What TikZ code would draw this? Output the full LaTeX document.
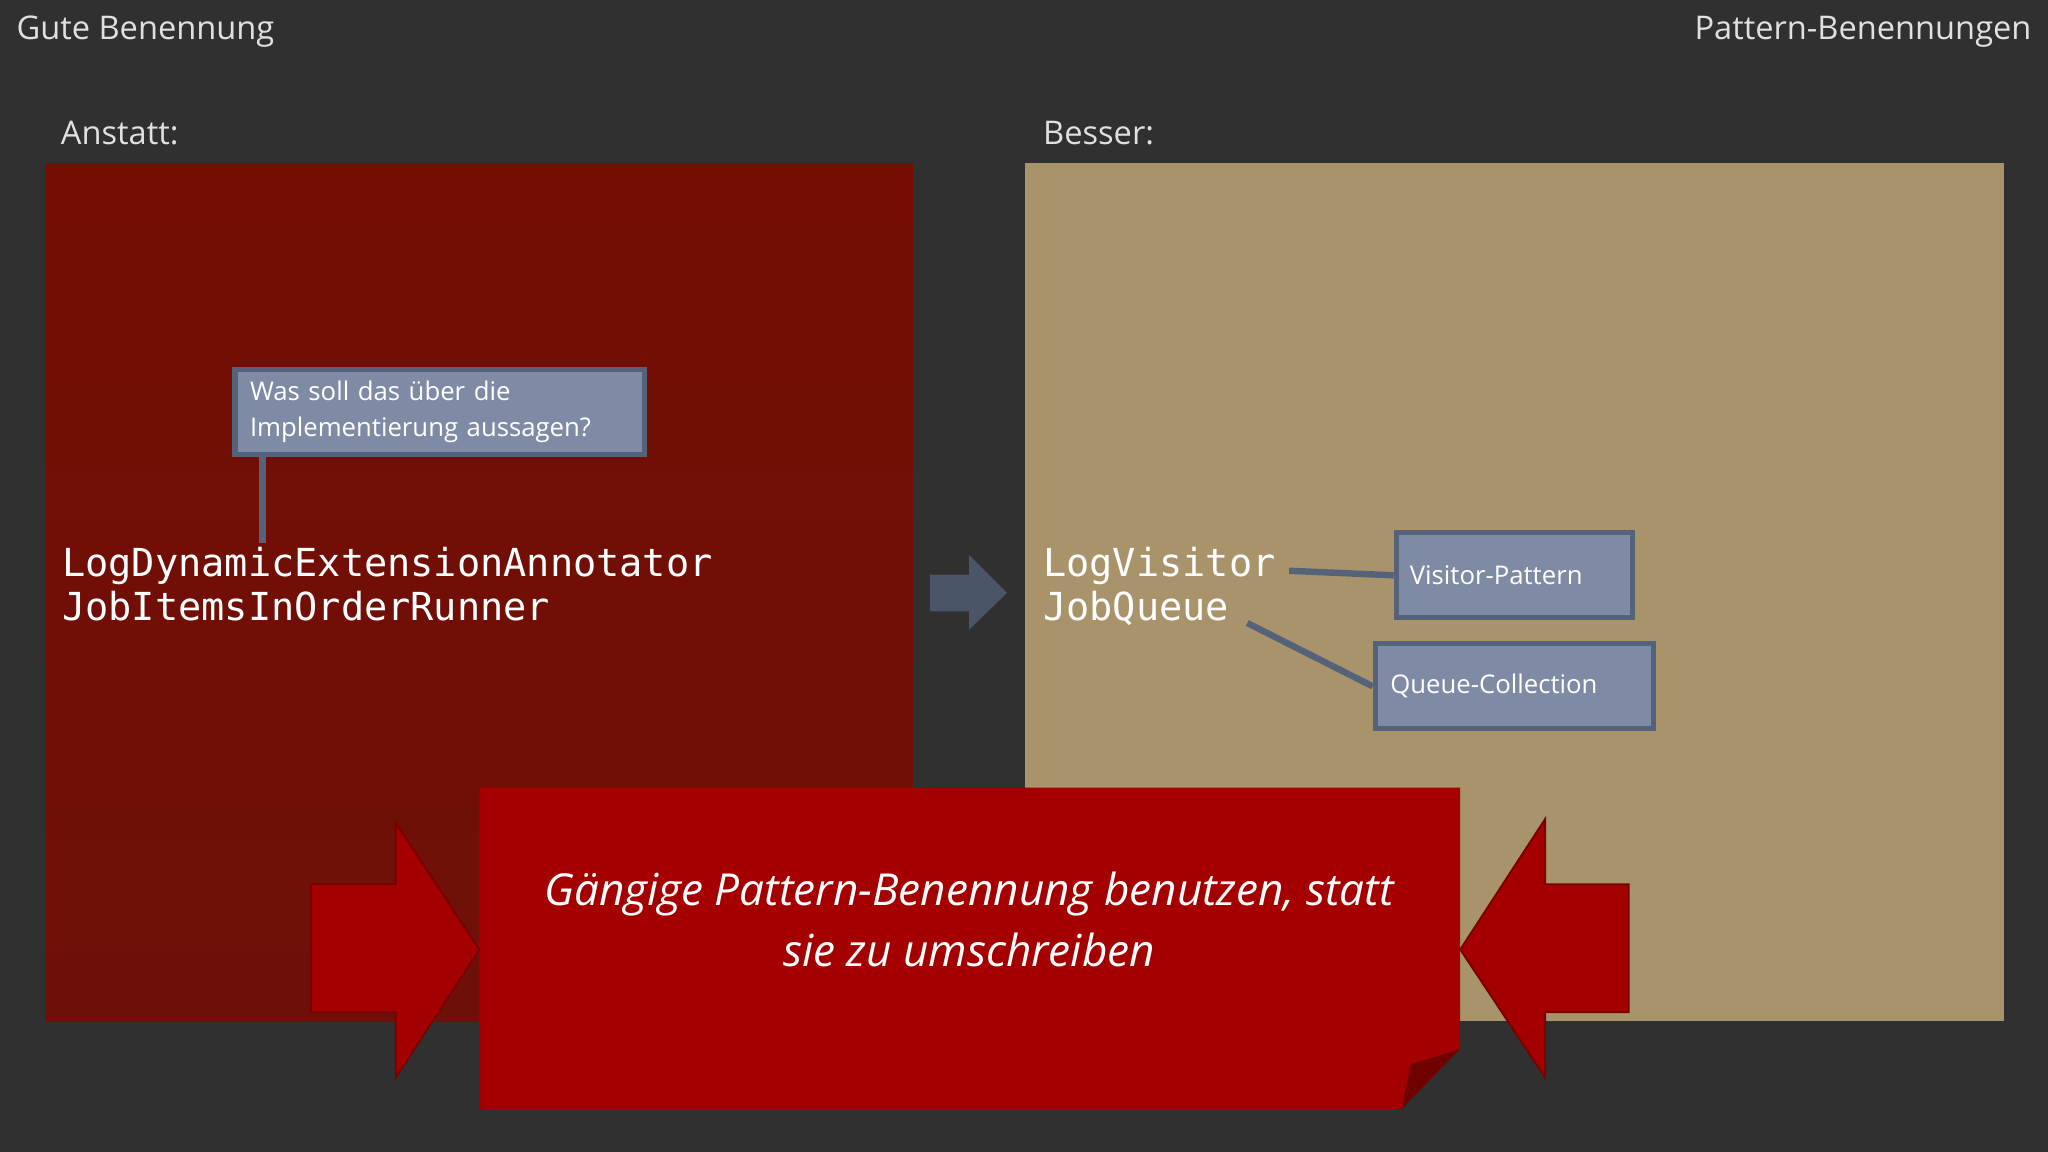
\documentclass[tikz,border=0pt]{standalone}
\usepackage{fontspec}
\setmainfont{Open Sans}
\setmonofont{DejaVu Sans Mono}
\definecolor{bg}{HTML}{303030}
\definecolor{tagf}{HTML}{7F8BA5}
\definecolor{tagd}{HTML}{56627A}
\definecolor{redA}{RGB}{116,14,3}
\definecolor{redB}{RGB}{110,16,10}
\definecolor{beige}{RGB}{169,147,106}
\definecolor{arr}{RGB}{74,85,104}
\definecolor{ban}{RGB}{165,0,0}
\definecolor{band}{RGB}{110,0,0}
\definecolor{banl}{RGB}{120,0,0}
\begin{document}
\begin{tikzpicture}[x=0.01cm,y=-0.01cm,
  hdr/.style={text=white!88!black,font=\fontsize{7.1}{8}\selectfont,inner sep=0},
  mono/.style={text=white,font=\ttfamily\fontsize{8.4}{9.6}\selectfont,inner sep=0,align=left},
  tag/.style={fill=tagf,draw=tagd,line width=1.1pt,text=white,font=\fontsize{5.6}{7.9}\selectfont,align=left,inner sep=0},
  lnk/.style={draw=tagd,line width=1.4pt},
  bigarr/.style={fill=ban,draw=banl,line width=0.4pt}]
\fill[bg] (0,0) rectangle (1568,882);
\useasboundingbox (0,0) rectangle (1568,882);
\node[hdr,anchor=west] (t1) at (12,24) {Gute Benennung};
\node[hdr,anchor=east] (t2) at (1556,24) {Pattern-Benennungen};
\node[hdr,anchor=west] (t3) at (46,102) {Anstatt:};
\node[hdr,anchor=west] (t4) at (798,102) {Besser:};
\shade[top color=redA,bottom color=redB] (35,125) rectangle (699,782);
\fill[beige] (785,125) rectangle (1534,782);
% callout
\node[tag,minimum width=3.13cm,minimum height=0.65cm,text width=2.9cm] (c1) at (336.5,315.5) {Was soll das über die\\Implementierung aussagen?};
\coordinate (c1e) at (201,416);
\draw[lnk] (201,348) -- (c1e);
\node[mono,anchor=north west] (m1) at (47,418) {LogDynamicExtensionAnnotator\\JobItemsInOrderRunner};
% arrow
\fill[arr] (712,440) -- (742,440) -- (742,425) -- (771,454) -- (742,482) -- (742,468) -- (712,468) -- cycle;
\node[mono,anchor=north west] (m2) at (798,418) {LogVisitor\\JobQueue};
\node[tag,minimum width=1.81cm,minimum height=0.65cm,text width=1.6cm] (v) at (1159.5,440.5) {Visitor-Pattern};
\node[tag,minimum width=2.13cm,minimum height=0.65cm,text width=1.9cm] (q) at (1159.5,525.5) {Queue-Collection};
\coordinate (l1) at (987,437);
\coordinate (l2) at (955,477);
\draw[lnk] (l1) -- (v.west);
\draw[lnk] (l2) -- (q.west);
% banner
\fill[ban] (367,603) -- (1118,603) -- (1118,803) -- (1073,849) -- (367,849) -- cycle;
\fill[band] (1118,803) -- (1073,849) -- (1080,815) -- cycle;
\filldraw[bigarr] (238,677) -- (303,677) -- (303,630) -- (367,727) -- (303,825) -- (303,775) -- (238,775) -- cycle;
\filldraw[bigarr] (1247,677) -- (1183,677) -- (1183,627) -- (1118,727) -- (1183,825) -- (1183,775) -- (1247,775) -- cycle;
\node[text=white,font=\itshape\fontsize{9.6}{13.3}\selectfont,align=center,inner sep=0] (b) at (742,704) {Gängige Pattern-Benennung benutzen, statt\\sie zu umschreiben};
\end{tikzpicture}
\end{document}
